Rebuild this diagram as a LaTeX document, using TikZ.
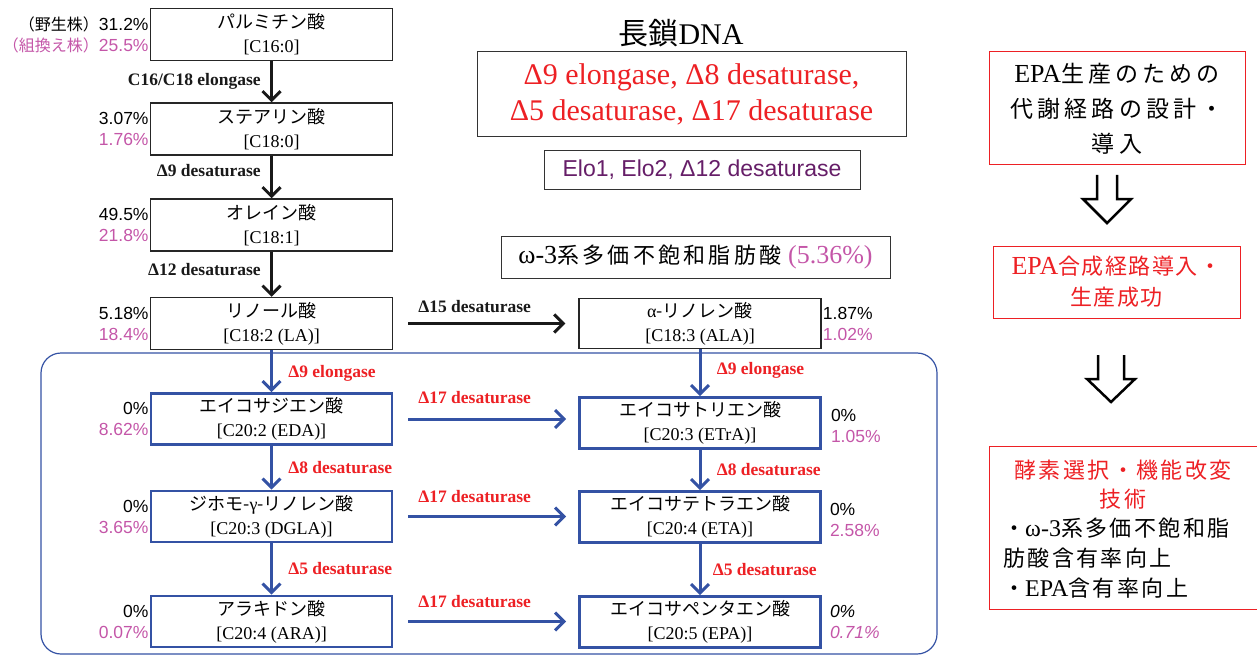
\documentclass[tikz,border=0pt]{standalone}
\usepackage{fontspec}
\setmainfont{Liberation Serif}
\setsansfont{Liberation Sans}
\newfontfamily\jp{Noto Sans CJK JP}
\newcommand\jpls[1]{\jp\addfontfeature{LetterSpace=#1}}
\usepackage{tikz}
\usetikzlibrary{arrows.meta, positioning}

\definecolor{ered}{RGB}{237,32,36}
\definecolor{epink}{RGB}{196,86,168}
\definecolor{epurple}{RGB}{102,30,104}
\definecolor{eblue}{RGB}{52,82,164}

\tikzset{
  acid/.style={draw=black!85, line width=1.5pt, minimum width=242pt, minimum height=52pt,
    inner sep=0pt, align=center, font=\fontsize{18}{24}\selectfont},
  bacid/.style={acid, draw=eblue, line width=2.6pt, minimum width=241pt, minimum height=51pt},
  pct/.style={align=right, inner sep=0pt, font=\sffamily\fontsize{17.5}{21}\selectfont},
  pctr/.style={pct, align=left},
  enz/.style={font=\bfseries\fontsize{17.5}{20}\selectfont},
  renz/.style={enz, text=ered},
  blkarrow/.style={-{Straight Barb[length=9pt,width=18pt]}, line width=3pt, black!90},
  bluearrow/.style={blkarrow, eblue},
  plainbox/.style={draw=black!80, line width=1pt, inner sep=0pt, align=center},
  redbox/.style={draw=ered, line width=1pt, inner sep=0pt, align=center}
}

\begin{document}
\begin{tikzpicture}[x=1pt, y=-1pt]
\useasboundingbox (0,0) rectangle (1257,655);

% frame of the introduced pathway
\draw[eblue, line width=1.2pt, rounded corners=20pt] (41,353) rectangle (937,654);

% left column
\node[acid] (P) at (271.5,34.5) {{\jp パルミチン酸}\\{}[C16:0]};
\node[acid] (S) at (271.5,129) {{\jp ステアリン酸}\\{}[C18:0]};
\node[acid] (O) at (271.5,225) {{\jp オレイン酸}\\{}[C18:1]};
\node[acid] (LA) at (271.5,323.5) {{\jp リノール酸}\\{}[C18:2 (LA)]};
\node[bacid] (EDA) at (271.5,419) {{\jp エイコサジエン酸}\\{}[C20:2 (EDA)]};
\node[bacid] (DGLA) at (271.5,516.5) {{\jp ジホモ-}γ{\jp -リノレン酸}\\{}[C20:3 (DGLA)]};
\node[bacid] (ARA) at (271.5,621.5) {{\jp アラキドン酸}\\{}[C20:4 (ARA)]};

% right column
\node[acid, minimum height=50pt] (ALA) at (700,323.5) {α{\jp -リノレン酸}\\{}[C18:3 (ALA)]};
\node[bacid] (ETrA) at (700,423) {{\jp エイコサトリエン酸}\\{}[C20:3 (ETrA)]};
\node[bacid] (ETA) at (700,517) {{\jp エイコサテトラエン酸}\\{}[C20:4 (ETA)]};
\node[bacid] (EPA) at (700,622) {{\jp エイコサペンタエン酸}\\{}[C20:5 (EPA)]};

% contents
\node[pct, left=1pt of P] {{\jp\fontsize{16}{21}\selectfont （野生株）}31.2\%\\{\color{epink}{\jp\fontsize{16}{21}\selectfont （組換え株）}25.5\%}};
\node[pct, left=1pt of S] {3.07\%\\{\color{epink}1.76\%}};
\node[pct, left=1pt of O] {49.5\%\\{\color{epink}21.8\%}};
\node[pct, left=1pt of LA] {5.18\%\\{\color{epink}18.4\%}};
\node[pct, left=1pt of EDA] {0\%\\{\color{epink}8.62\%}};
\node[pct, left=1pt of DGLA] {0\%\\{\color{epink}3.65\%}};
\node[pct, left=1pt of ARA] {0\%\\{\color{epink}0.07\%}};
\node[pctr, right=1pt of ALA] {1.87\%\\{\color{epink}1.02\%}};
\node[pctr, right=9pt of ETrA, yshift=-3pt] {0\%\\{\color{epink}1.05\%}};
\node[pctr, right=8pt of ETA, yshift=-3pt] {0\%\\{\color{epink}2.58\%}};
\node[pctr, right=8pt of EPA] {\itshape 0\%\\{\itshape\color{epink}0.71\%}};

\path[blkarrow]
  (P) edge node[enz, left=6pt] {C16/C18 elongase} (S)
  (S) edge node[enz, left=6pt, pos=0.35] {Δ9 desaturase} (O)
  (O) edge node[enz, left=6pt, pos=0.4] {Δ12 desaturase} (LA);
\path[blkarrow, shorten <=15pt, shorten >=13pt]
  (LA) edge node[enz, above=6pt, pos=0.44] {Δ15 desaturase} (ALA);

\path[bluearrow]
  (LA) edge node[renz, right=12pt, pos=0.55] {Δ9 elongase} (EDA)
  (EDA) edge node[renz, right=12pt] {Δ8 desaturase} (DGLA)
  (DGLA) edge node[renz, right=12pt] {Δ5 desaturase} (ARA)
  (ALA) edge node[renz, right=12pt, pos=0.45] {Δ9 elongase} (ETrA)
  (ETrA) edge node[renz, right=12pt] {Δ8 desaturase} (ETA)
  (ETA) edge node[renz, right=8pt] {Δ5 desaturase} (EPA);
\path[bluearrow, shorten <=15pt, shorten >=12pt]
  (EDA) edge node[renz, above=10pt, pos=0.44] {Δ17 desaturase} (EDA -| ETrA.west)
  (DGLA) edge node[renz, above=9pt, pos=0.44] {Δ17 desaturase} (DGLA -| ETA.west)
  (ARA) edge node[renz, above=9pt, pos=0.44] {Δ17 desaturase} (ARA -| EPA.west);

% genes
\node[font=\fontsize{30}{34}\selectfont] (dna) at (681,33) {{\jp 長鎖}DNA};
\node[plainbox, minimum width=429pt, minimum height=85pt, text=ered,
  font=\fontsize{30}{36}\selectfont] (genes) at (691.5,94)
  {Δ9 elongase, Δ8 desaturase,\\Δ5 desaturase, Δ17 desaturase};
\node[plainbox, minimum width=316pt, minimum height=38pt, text=epurple,
  font=\sffamily\fontsize{23}{26}\selectfont] (elo) at (702,170) {Elo1, Elo2, Δ12 desaturase};
\node[plainbox, minimum width=389pt, minimum height=42pt,
  font=\fontsize{26}{30}\selectfont] (omega) at (695.5,257)
  {ω-3{\fontsize{22}{30}\selectfont\jpls{15}系多価不飽和脂肪酸} {\color{epink}(5.36\%)}};

% right side
\node[redbox, minimum width=256pt, minimum height=113pt, font=\fontsize{26}{35}\selectfont] (plan) at (1117,108.5)
  {EPA{\fontsize{23}{35}\selectfont\jpls{18}生産のための}\\{\fontsize{23}{35}\selectfont\jpls{18}代謝経路の設計・}\\{\fontsize{23}{35}\selectfont\jpls{18}導入}};
\node[redbox, minimum width=247pt, minimum height=72pt, text=ered, font=\fontsize{26}{31}\selectfont] (done) at (1116.5,282)
  {EPA{\fontsize{22}{31}\selectfont\jpls{7}合成経路導入・}\\{\fontsize{22}{31}\selectfont\jpls{7}生産成功}};
\node[redbox, minimum width=268pt, minimum height=163pt] (tech) at (1123,527.5) {};
\node[text=ered, align=center, inner sep=0pt, font=\fontsize{22}{29.5}\selectfont] (techttl) at (1123,484.5)
  {{\jpls{11}酵素選択・機能改変}\\{\jpls{11}技術}};
\node[anchor=west, align=left, inner sep=0pt, font=\fontsize{24}{30}\selectfont] (techpts) at (1003,558)
  {{\fontsize{22}{30}\selectfont\jpls{11}・}ω-3{\fontsize{22}{30}\selectfont\jpls{11}系多価不飽和脂}\\{\fontsize{22}{30}\selectfont\jpls{11}肪酸含有率向上}\\{\fontsize{22}{30}\selectfont\jpls{11}・}EPA{\fontsize{22}{30}\selectfont\jpls{11}含有率向上}};

\draw[line width=2.5pt] (1097,175) -- (1097,199) -- (1083,199) -- (1107,223) -- (1131,199) -- (1117,199) -- (1117,175);
\draw[line width=2.5pt] (1098,355) -- (1098,379) -- (1087,379) -- (1111,402) -- (1135,379) -- (1124,379) -- (1124,355);

\end{tikzpicture}
\end{document}
